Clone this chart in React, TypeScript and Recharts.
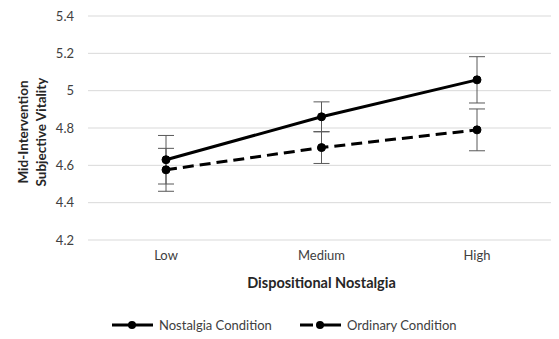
import React from "react";
import { LineChart, Line, XAxis, YAxis, CartesianGrid, ErrorBar, Label, Legend } from "recharts";

const categories = ["Low", "Medium", "High"];
const nostalgiaValues = [4.63, 4.86, 5.058];
const nostalgiaErrors = [0.13, 0.08, 0.124];
const ordinaryValues = [4.576, 4.695, 4.79];
const ordinaryErrors = [0.115, 0.085, 0.112];
const yTicks = [4.2, 4.4, 4.6, 4.8, 5, 5.2, 5.4];
const seriesNames = ["Nostalgia Condition", "Ordinary Condition"];

const data = categories.map((c, i) => ({
  category: c,
  nostalgia: nostalgiaValues[i],
  nErr: nostalgiaErrors[i],
  ordinary: ordinaryValues[i],
  oErr: ordinaryErrors[i],
}));

const FONT = "Lato, 'Open Sans', sans-serif";
const DASH = "11 6";

const YTitle = () => (
  <text
    transform="translate(20,124) rotate(-90)"
    textAnchor="middle"
    fontFamily={FONT}
    fontWeight="bold"
    fontSize={13.5}
    fill="#262626"
  >
    <tspan x={0} dy={0}>Mid-Intervention</tspan>
    <tspan x={0} dy={18}>Subjective Vitality</tspan>
  </text>
);

const renderLegend = () => {
  const items = [
    { name: seriesNames[0], x: 104, dash: undefined as string | undefined },
    { name: seriesNames[1], x: 292, dash: "13 5 23" },
  ];
  return (
    <svg width={551} height={22} style={{ display: "block" }}>
      {items.map((it) => (
        <g key={it.name}>
          <line x1={it.x} x2={it.x + 41} y1={11} y2={11} stroke="#000" strokeWidth={3} strokeDasharray={it.dash} />
          <circle cx={it.x + 20} cy={11} r={4} fill="#000" />
          <text x={it.x + 47} y={15.5} fontFamily={FONT} fontSize={13} fill="#404040">
            {it.name}
          </text>
        </g>
      ))}
    </svg>
  );
};

export default function App() {
  return (
    <div style={{ position: "relative", width: 551, height: 331 }}>
      <LineChart width={551} height={331} data={data} margin={{ top: 8, right: 4, bottom: 39, left: 0 }}>
        <CartesianGrid vertical={false} stroke="#d9d9d9" strokeWidth={1} />
        <XAxis
          dataKey="category"
          axisLine={false}
          tickLine={false}
          padding={{ left: 78, right: 78 }}
          height={60}
          tickMargin={5}
          tick={{ fontFamily: FONT, fontSize: 13, fill: "#404040" }}
        >
          <Label
            value="Dispositional Nostalgia"
            position="insideBottom"
            offset={12}
            style={{ fontFamily: FONT, fontWeight: "bold", fontSize: 14.5, fill: "#262626" }}
          />
        </XAxis>
        <YAxis
          domain={[4.2, 5.4]}
          ticks={yTicks}
          interval={0}
          width={80}
          axisLine={false}
          tickLine={false}
          tickMargin={8}
          tickFormatter={(v: number) => String(v)}
          tick={{ fontFamily: FONT, fontSize: 13, fill: "#404040" }}
          label={<YTitle />}
        />
        <Legend
          layout="horizontal"
          verticalAlign="middle"
          align="center"
          content={renderLegend}
          wrapperStyle={{ top: 306, left: 0, width: 551, height: 22 }}
        />
        <Line
          name={seriesNames[0]}
          dataKey="nostalgia"
          stroke="#000"
          strokeWidth={3}
          dot={{ r: 4, fill: "#000", stroke: "#000", strokeWidth: 1 }}
          isAnimationActive={false}
        >
          <ErrorBar dataKey="nErr" width={8} stroke="#595959" strokeWidth={1} />
        </Line>
        <Line
          name={seriesNames[1]}
          dataKey="ordinary"
          stroke="#000"
          strokeWidth={3}
          strokeDasharray={DASH}
          dot={{ r: 4, fill: "#000", stroke: "#000", strokeWidth: 1, strokeDasharray: "" }}
          isAnimationActive={false}
        >
          <ErrorBar dataKey="oErr" width={8} stroke="#595959" strokeWidth={1} />
        </Line>
      </LineChart>
    </div>
  );
}
